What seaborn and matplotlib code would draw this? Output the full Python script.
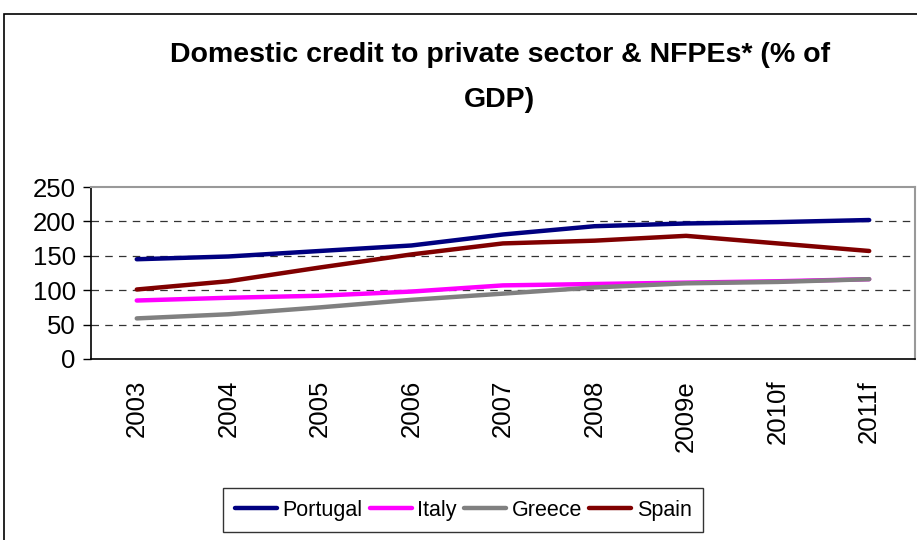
import matplotlib
matplotlib.use("Agg")
import matplotlib.pyplot as plt
from matplotlib.patches import Rectangle
import seaborn as sns
import pandas as pd

years = ["2003", "2004", "2005", "2006", "2007", "2008", "2009e", "2010f", "2011f"]
portugal = [145, 149, 157, 165, 181, 193, 197, 199, 202]
italy = [85, 89, 92, 98, 107, 109, 111, 113, 116]
greece = [59, 65, 75, 86, 95, 104, 110, 112, 116]
spain = [101, 113, 133, 152, 168, 172, 179, 168, 157]

series = {"Portugal": portugal, "Italy": italy, "Greece": greece, "Spain": spain}
colors = {"Portugal": "#000080", "Italy": "#ff00ff", "Greece": "#808080", "Spain": "#800000"}

df = pd.DataFrame(
    [(y, name, v) for name, vals in series.items() for y, v in zip(years, vals)],
    columns=["year", "country", "value"],
)

sns.set_style("white")
plt.rcParams["font.family"] = ["Liberation Sans", "DejaVu Sans"]
plt.rcParams["text.color"] = "black"
plt.rcParams["xtick.color"] = "black"
plt.rcParams["ytick.color"] = "black"

fig = plt.figure(figsize=(9.17, 5.40), dpi=100)
ax = fig.add_axes([0.0992, 0.3352, 0.8986, 0.3185])

sns.lineplot(data=df, x="year", y="value", hue="country", palette=colors,
             sort=False, linewidth=3.2, ax=ax, legend=True)

ax.set_xlim(-0.5, len(years) - 0.5)
ax.set_ylim(0, 250)
ax.set_yticks([0, 50, 100, 150, 200, 250])
ax.set_xticks(range(len(years)))
ax.set_xticklabels(years, rotation=90, fontsize=18.5)
ax.tick_params(axis="y", labelsize=18.5, length=6, width=1, color="black",
               labelcolor="black", left=True, pad=5)
ax.tick_params(axis="x", length=0, pad=15, labelcolor="black")
ax.set_xlabel("")
ax.set_ylabel("")

for y in [50, 100, 150, 200]:
    ax.axhline(y, color="#333333", lw=0.9, ls=(0, (6, 5)), zorder=0)

for s in ["left", "bottom"]:
    ax.spines[s].set_color("black")
    ax.spines[s].set_linewidth(1.2)
for s in ["top", "right"]:
    ax.spines[s].set_color("#999999")
    ax.spines[s].set_linewidth(1.5)

handles, labels = ax.get_legend_handles_labels()
ax.legend_.remove()
leg = fig.legend(handles, labels, loc="center", bbox_to_anchor=(0.505, 0.0555),
                 ncol=4, frameon=True, fancybox=False, fontsize=15.5,
                 handlelength=1.95, handletextpad=0.25, columnspacing=0.35,
                 borderpad=0.55)
leg.get_frame().set_edgecolor("black")
leg.get_frame().set_linewidth(1.0)
for line in leg.get_lines():
    line.set_linewidth(3.2)
for t in leg.get_texts():
    t.set_color("black")

fig.text(0.545, 0.898, "Domestic credit to private sector & NFPEs* (% of",
         ha="center", va="center", fontsize=20.5, fontweight="bold", color="black")
fig.text(0.545, 0.815, "GDP)", ha="center", va="center", fontsize=20.5,
         fontweight="bold", color="black")

fig.patches.append(Rectangle((4 / 917, -0.05), 1.1, 1.05 - 14 / 540,
                             transform=fig.transFigure, fill=False,
                             edgecolor="black", lw=1.2))

fig.savefig("out.png", dpi=100)
